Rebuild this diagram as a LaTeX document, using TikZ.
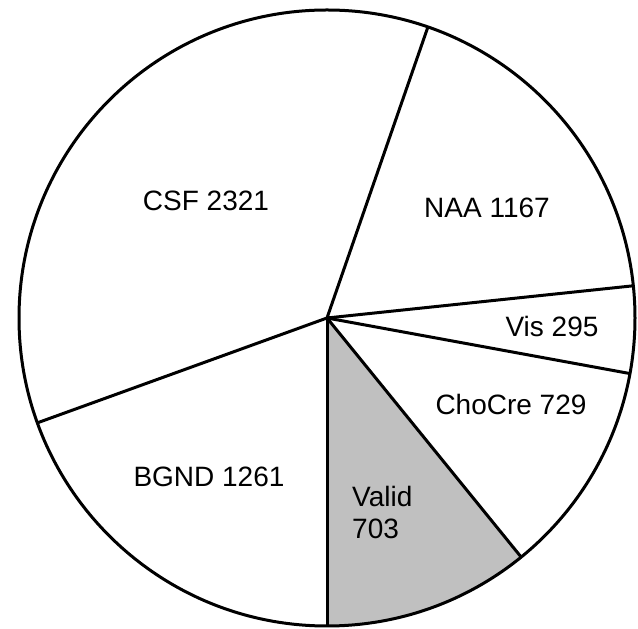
\documentclass[tikz,border=0pt]{standalone}
\usepackage{fontspec}
\setmainfont{Liberation Sans}
\usetikzlibrary{calc}
\begin{document}
\begin{tikzpicture}[x=1pt,y=1pt,
  edge/.style={line width=3pt, line join=round},
  lbl/.style={inner sep=0pt, anchor=base, font=\fontsize{28}{32}\selectfont}]
\useasboundingbox (0,0) rectangle (638,629);
\fill[white] (0,0) rectangle (638,629);
\coordinate (c) at (327,311);
\def\R{308}
% shaded slice: Valid
\fill[fill={rgb,255:red,192;green,192;blue,192}] (c) -- ++(270:\R) arc[start angle=270, end angle=309.080, radius=\R] -- cycle;
% outer circle
\draw[edge] (c) circle[radius=\R];
% boundaries
\foreach \a/\n in {270/b1, 309.080/b2, 349.605/b3, 6.004/b4, 70.877/b5, 199.901/b6}{
  \coordinate (\n) at ($(c)+(\a:\R)$);
  \draw[edge] (c) -- (\n);
}
% labels
\node[lbl] (csf) at (206,418) {CSF 2321};
\node[lbl] (naa) at (487,411) {NAA 1167};
\node[lbl] (vis) at (552,292) {Vis 295};
\node[lbl] (cho) at (511,214) {ChoCre 729};
\node[lbl] (bgnd) at (209,142) {BGND 1261};
\node[lbl, anchor=base west, align=left] (valid) at (352,90) {Valid\\703};
\end{tikzpicture}
\end{document}
